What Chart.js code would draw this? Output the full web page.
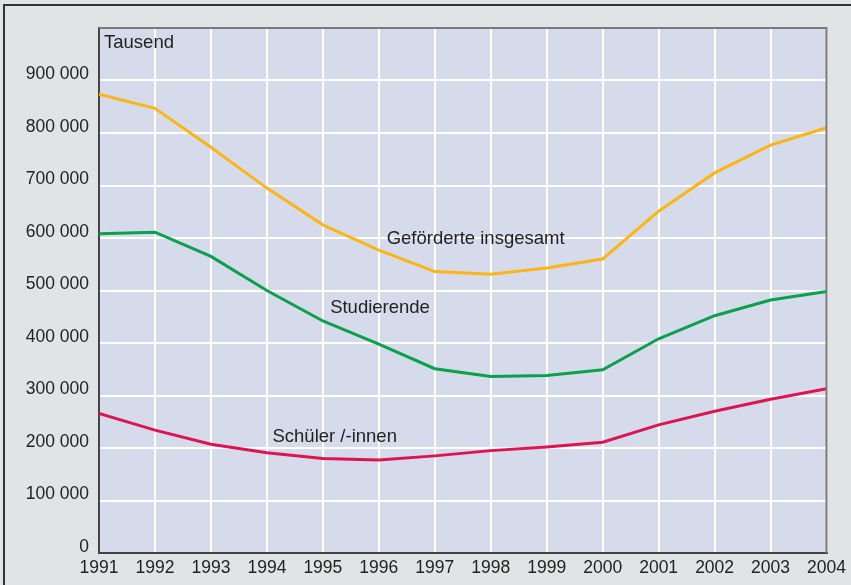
<!DOCTYPE html>
<html>
<head>
<meta charset="utf-8">
<script src="https://cdn.jsdelivr.net/npm/chart.js@4"></script>
<style>
  html, body { margin: 0; padding: 0; background: #e1e4e4; }
  #wrap { position: relative; width: 851px; height: 585px; }
</style>
</head>
<body>
<div id="wrap"><canvas id="chart" width="851" height="585"></canvas></div>
<script>
const years = [1991, 1992, 1993, 1994, 1995, 1996, 1997, 1998, 1999, 2000, 2001, 2002, 2003, 2004]
const gefoerderte = [874000, 847000, 773000, 695000, 625000, 577000, 536000, 531000, 543000, 560000, 651000, 724000, 777000, 810000]
const studierende = [608000, 611000, 565000, 500000, 442000, 398000, 351000, 336000, 338000, 349000, 408000, 452000, 482000, 498000]
const schueler = [266000, 234000, 207000, 191000, 180000, 177000, 185000, 195000, 202000, 211000, 244000, 270000, 293000, 313000]

// text labels: [text, year, value]
const seriesLabels = [
   ['Geförderte insgesamt', 1996.14, 598000],
   ['Studierende', 1995.13, 467000],
   ['Schüler /-innen', 1994.1, 221000]
]
const unitLabel = ['Tausend', 1991.09, 971000]

const fontFamily = '"Liberation Sans", Arial, Helvetica, sans-serif'
const textColor = '#222'

function toPoints(values) {
   return values.map((v, i) => ({ x: years[i], y: v }))
}

function formatThousands(v) {
   return String(v).replace(/\B(?=(\d{3})+(?!\d))/g, ' ')
}

const backgroundPlugin = {
   id: 'background',
   beforeDraw(chart) {
      const { ctx, chartArea: a } = chart
      ctx.save()
      ctx.fillStyle = '#e1e4e4'
      ctx.fillRect(0, 0, chart.width, chart.height)
      // outer frame
      ctx.strokeStyle = '#333'
      ctx.lineWidth = 2
      ctx.beginPath()
      ctx.moveTo(4, chart.height)
      ctx.lineTo(4, 5)
      ctx.lineTo(chart.width, 5)
      ctx.stroke()
      ctx.fillStyle = '#d5dbea'
      ctx.fillRect(a.left, a.top, a.right - a.left, a.bottom - a.top)
      ctx.restore()
   },
   afterDraw(chart) {
      const { ctx, chartArea: a, scales } = chart
      ctx.save()
      ctx.strokeStyle = '#7a7a7a'
      ctx.lineWidth = 2
      ctx.beginPath()
      ctx.moveTo(a.left, a.top)
      ctx.lineTo(a.right, a.top)
      ctx.lineTo(a.right, a.bottom)
      ctx.stroke()
      ctx.fillStyle = textColor
      ctx.font = '18.5px ' + fontFamily
      ctx.textBaseline = 'middle'
      ctx.textAlign = 'left'
      for (const [text, x, y] of seriesLabels.concat([unitLabel])) {
         ctx.fillText(text, scales.x.getPixelForValue(x), scales.y.getPixelForValue(y))
      }
      ctx.restore()
   }
}

function lineDataset(label, values, color) {
   return {
      label: label,
      data: toPoints(values),
      borderColor: color,
      borderWidth: 3,
      pointRadius: 0,
      tension: 0,
      fill: false
   }
}

new Chart(document.getElementById('chart'), {
   type: 'line',
   data: {
      datasets: [
         lineDataset('Geförderte insgesamt', gefoerderte, '#fbb614'),
         lineDataset('Studierende', studierende, '#0ba04c'),
         lineDataset('Schüler /-innen', schueler, '#dc1550')
      ]
   },
   plugins: [backgroundPlugin],
   options: {
      responsive: false,
      animation: false,
      layout: {
         padding: { left: 0, right: 24, top: 28, bottom: 0 }
      },
      plugins: {
         legend: { display: false },
         tooltip: { enabled: false }
      },
      scales: {
         x: {
            type: 'linear',
            min: 1991,
            max: 2004,
            afterFit: (scale) => { scale.height = 32 },
            ticks: {
               stepSize: 1,
               autoSkip: false,
               maxRotation: 0,
               padding: 5,
               color: textColor,
               font: { family: fontFamily, size: 17.5 },
               callback: (v) => String(v)
            },
            grid: { color: '#ffffff', lineWidth: 2, drawTicks: false },
            border: { color: '#444', width: 2 }
         },
         y: {
            min: 0,
            max: 1000000,
            afterFit: (scale) => { scale.width = 99 },
            ticks: {
               stepSize: 100000,
               padding: 10,
               labelOffset: -6,
               color: textColor,
               font: { family: fontFamily, size: 17.5 },
               callback: (v) => v >= 1000000 ? '' : formatThousands(v)
            },
            grid: { color: '#ffffff', lineWidth: 2, drawTicks: false },
            border: { color: '#444', width: 2 }
         }
      }
   }
})
</script>
</body>
</html>
